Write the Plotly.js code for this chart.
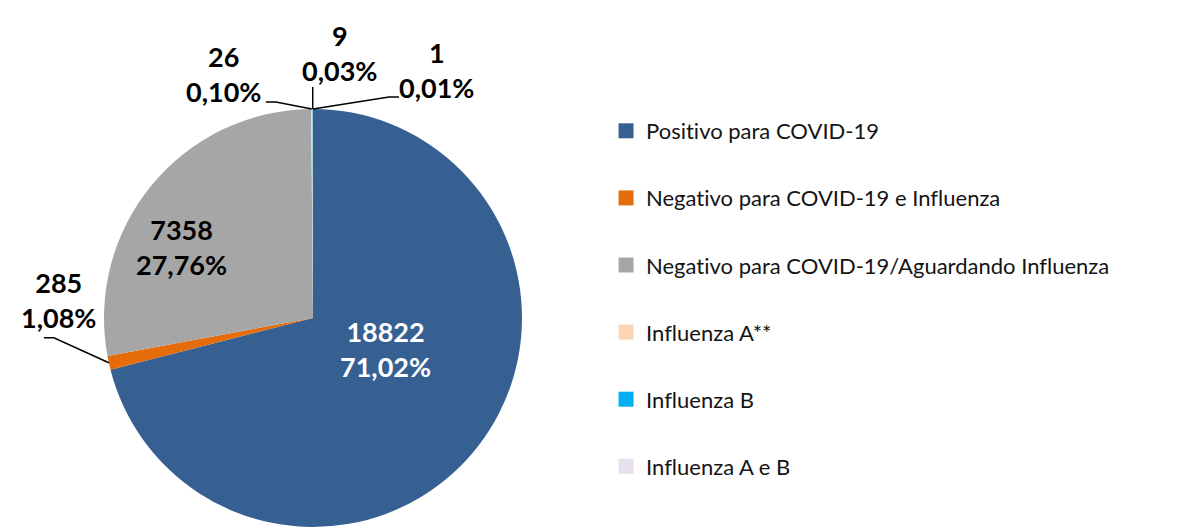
<!DOCTYPE html>
<html>
<head>
<meta charset="utf-8">
<script src="https://cdn.plot.ly/plotly-3.0.1.min.js"></script>
<style>html,body{margin:0;padding:0;background:#fff;}#chart{width:1183px;height:527px;}svg text{font-variant-ligatures:none;font-feature-settings:"liga" 0,"clig" 0;}</style>
</head>
<body>
<div id="chart"></div>
<script>
// ---- data ----
const categories = [
  "Positivo para COVID-19",
  "Negativo para COVID-19 e Influenza",
  "Negativo para COVID-19/Aguardando Influenza",
  "Influenza A**",
  "Influenza B",
  "Influenza A e B"
];
const counts = [18822, 285, 7358, 26, 9, 1];
const percentLabels = ["71,02%", "1,08%", "27,76%", "0,10%", "0,03%", "0,01%"];
const colors = ["#376092", "#E46C0A", "#A6A6A6", "#FCD5B5", "#00B0F0", "#E6E0EC"];

// ---- geometry (layout) ----
const W = 1183, H = 527;
const cx = 313, cy = 318, R = 209;

const pie = {
  type: "pie",
  labels: categories,
  values: counts,
  sort: false,
  direction: "clockwise",
  rotation: 0,
  textinfo: "none",
  hoverinfo: "label+value",
  marker: {colors: colors, line: {width: 0}},
  domain: {x: [(cx - R) / W, (cx + R) / W], y: [(H - cy - R) / H, (H - cy + R) / H]},
  showlegend: false
};

// legend proxy traces (one per category, separate groups for spacing)
const legendTraces = categories.map((c, i) => ({
  type: "scatter", mode: "markers", x: [null], y: [null],
  name: c, legendgroup: "g" + i,
  marker: {symbol: "square", size: 15, color: colors[i]},
  hoverinfo: "skip", showlegend: true
}));

// label placement: text offset from slice edge point (px) and leader line bend points (px offsets)
const labelStyle = [
  {inside: true, tx: 72, ty: 31, color: "#ffffff"},
  {tx: -50, ty: -63, line: [[-55, -25], [-65, -25]]},
  {inside: true, tx: -132, ty: -71, color: "#000000"},
  {tx: -88, ty: -35, line: [[-36, -7], [-46, -7]]},
  {tx: 27, ty: -56, line: [[0, -22]]},
  {tx: 124, ty: -39, line: [[76, -12], [86, -12]]}
];

const px2x = (x) => x / W;
const px2y = (y) => 1 - y / H;

const total = counts.reduce((a, b) => a + b, 0);
let cum = 0;
const annotations = [];
const shapes = [];
const labelFont = "Lato, 'Open Sans', sans-serif";
counts.forEach((v, i) => {
  const mid = (cum + v / 2) / total;
  cum += v;
  const th = 2 * Math.PI * mid;
  const hx = cx + R * Math.sin(th);
  const hy = cy - R * Math.cos(th);
  const s = labelStyle[i];
  const txt = "<b>" + v + "</b><br><b>" + percentLabels[i] + "</b>";
  const font = {family: labelFont, size: 27, color: s.color || "#000000"};
  const bx = s.inside ? cx : hx, by = s.inside ? cy : hy;
  annotations.push({
    xref: "paper", yref: "paper",
    x: px2x(bx + s.tx), y: px2y(by + s.ty),
    text: txt, showarrow: false, font: font, align: "center",
    xanchor: "center", yanchor: "middle"
  });
  if (s.line) {
    let path = "M " + px2x(hx) + "," + px2y(hy);
    s.line.forEach(p => { path += " L " + px2x(hx + p[0]) + "," + px2y(hy + p[1]); });
    shapes.push({type: "path", xref: "paper", yref: "paper", path: path,
      line: {color: "#000000", width: 1.5}});
  }
});

const layout = {
  width: W, height: H,
  margin: {l: 0, r: 0, t: 0, b: 0},
  paper_bgcolor: "#ffffff", plot_bgcolor: "#ffffff",
  xaxis: {visible: false}, yaxis: {visible: false},
  showlegend: true,
  legend: {
    x: 0.5123, y: 1 - 110 / H, xanchor: "left", yanchor: "top",
    font: {family: "Lato, 'Open Sans', sans-serif", size: 22, color: "#141414"},
    tracegroupgap: 35.5, itemclick: false, itemdoubleclick: false,
    bgcolor: "rgba(0,0,0,0)"
  },
  annotations: annotations,
  shapes: shapes
};

Plotly.newPlot("chart", [pie].concat(legendTraces), layout, {displayModeBar: false, staticPlot: true});
</script>
</body>
</html>
